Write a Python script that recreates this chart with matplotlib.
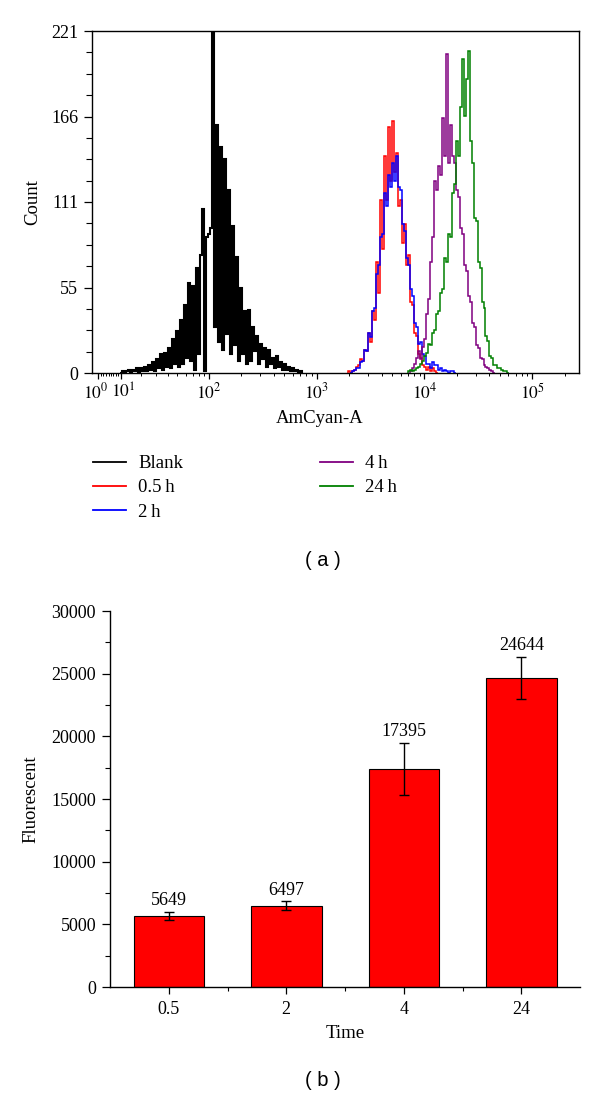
import numpy as np
import matplotlib
matplotlib.use("Agg")
import matplotlib.pyplot as plt
from matplotlib.ticker import FixedLocator, MultipleLocator, NullFormatter
from matplotlib.lines import Line2D
from matplotlib.transforms import ScaledTranslation

plt.rcParams['font.family'] = ['Liberation Serif', 'DejaVu Serif']
plt.rcParams['mathtext.fontset'] = 'stix'

## (a) flow cytometry histograms
# counts per channel; channels are equal steps on the arcsinh (logicle-like) axis
LOGICLE_W = 18.0
CHANNEL_STEP = 0.04264

blank_first = 12
blank_counts = [0, 1, 0, 1, 2, 0, 2, 1, 3, 0, 3, 1, 4, 1, 5, 2, 7, 1, 9, 3,
                12, 2, 13, 4, 16, 3, 22, 6, 27, 4, 34, 6, 44, 10, 58, 8, 56, 2, 68, 12,
                76, 106, 1, 88, 90, 94, 221, 30, 160, 20, 146, 15, 138, 25, 118, 12, 95, 18, 75, 8,
                55, 12, 40, 6, 41, 8, 30, 14, 24, 6, 19, 9, 16, 4, 15, 6, 10, 3, 11, 4,
                7, 2, 6, 2, 4, 1, 3, 1, 2, 0, 1]

h05_first = 126
h05_counts = [1, 0, 1, 2, 4, 5, 9, 8, 15, 14, 26, 20, 40, 34, 72, 52, 112, 80, 140, 112,
              159, 124, 163, 130, 142, 108, 112, 84, 96, 70, 76, 46, 44, 26, 24, 12, 10, 5, 4, 2,
              4, 1, 3, 1, 0]

h2_first = 127
h2_counts = [0, 1, 2, 3, 3, 7, 8, 15, 14, 26, 23, 40, 42, 64, 70, 88, 90, 116, 108, 128,
             120, 136, 124, 140, 120, 118, 96, 92, 74, 70, 54, 50, 32, 30, 19, 20, 12, 11, 6, 6,
             3, 7, 5, 5, 2, 3, 1, 2, 1, 0, 1, 1, 0]

h4_first = 157
h4_counts = [1, 3, 6, 10, 14, 9, 17, 22, 38, 48, 72, 88, 124, 118, 134, 128, 165, 140, 206, 136,
             160, 140, 136, 118, 114, 94, 90, 70, 66, 50, 46, 32, 30, 18, 16, 10, 9, 5, 4, 3,
             2, 1, 0]

h24_first = 156
h24_counts = [1, 2, 1, 2, 3, 4, 6, 8, 11, 13, 19, 18, 26, 28, 38, 40, 52, 54, 74, 72,
              90, 88, 116, 122, 150, 140, 172, 203, 166, 190, 208, 150, 136, 100, 98, 72, 68, 46, 42, 24,
              21, 11, 10, 5, 5, 3, 3, 2, 1, 1, 0]

series_labels = ["Blank", "0.5\u2009h", "2\u2009h", "4\u2009h", "24\u2009h"]
series_colors = ["black", "red", "blue", "purple", "green"]
series_widths = [1.5, 1.1, 1.1, 1.1, 1.1]

count_ticks = [0, 55.25, 110.5, 165.75, 221]
count_tick_labels = ["0", "55", "111", "166", "221"]
decade_ticks = [1, 10, 100, 1000, 10000, 100000]
decade_labels = [r"$10^{0}$", r"$10^{1}$", r"$10^{2}$", r"$10^{3}$", r"$10^{4}$", r"$10^{5}$"]

## (b) mean fluorescence per time point
times = ["0.5", "2", "4", "24"]
fluorescence = [5649, 6497, 17395, 24644]
fluorescence_err = [320, 335, 2075, 1700]


def to_logicle(x):
    return np.arcsinh(np.asarray(x, dtype=float) / LOGICLE_W)


def from_logicle(u):
    return LOGICLE_W * np.sinh(u)


def channel_edges(first, n):
    ch = np.arange(first, first + n + 1)
    return from_logicle(ch * CHANNEL_STEP)


fig = plt.figure(figsize=(6, 10.98), dpi=100)

##Histogram panel
ax = fig.add_axes([92 / 600, 1 - 373 / 1098, 487 / 600, 342 / 1098])
ax.set_xscale('function', functions=(to_logicle, from_logicle))

all_series = [(blank_first, blank_counts), (h05_first, h05_counts), (h2_first, h2_counts),
              (h4_first, h4_counts), (h24_first, h24_counts)]
for (first, counts), color, lw in zip(all_series, series_colors, series_widths):
    ax.stairs(counts, channel_edges(first, len(counts)), color=color, lw=lw, baseline=0)

ax.set_xlim(-1.4, 270000)
ax.set_ylim(0, 221)
ax.xaxis.set_major_locator(FixedLocator(decade_ticks))
ax.set_xticklabels(decade_labels)
minor_x = [m * 10 ** n for n in range(0, 5) for m in range(2, 10)] + [200000]
ax.xaxis.set_minor_locator(FixedLocator(minor_x))
ax.xaxis.set_minor_formatter(NullFormatter())
ax.yaxis.set_major_locator(FixedLocator(count_ticks))
ax.set_yticklabels(count_tick_labels)
ax.yaxis.set_minor_locator(MultipleLocator(221 / 16))
ax.tick_params(axis='y', which='major', direction='out', length=6, width=0.9, labelsize=13, pad=4)
ax.tick_params(axis='y', which='minor', direction='out', length=4, width=0.8)
ax.tick_params(axis='x', which='major', direction='out', length=4, width=0.9, labelsize=12.5, pad=3)
ax.tick_params(axis='x', which='minor', direction='out', length=2.5, width=0.7)
for sp in ax.spines.values():
    sp.set_linewidth(1.0)
ax.set_ylabel("Count", fontsize=13.5)
ax.yaxis.set_label_coords(-0.105, 0.5)
ax.set_xlabel("AmCyan-A", fontsize=13.5)
ax.xaxis.set_label_coords(0.468, -0.108)

# 10^0 and 10^1 sit very close on this axis, nudge them apart a little
xt = ax.xaxis.get_major_ticks()
xt[0].label1.set_transform(xt[0].label1.get_transform()
                           + ScaledTranslation(-2.5 / 100, 0, fig.dpi_scale_trans))
xt[1].label1.set_transform(xt[1].label1.get_transform()
                           + ScaledTranslation(2.5 / 100, 0, fig.dpi_scale_trans))

handles = [Line2D([], [], color=c, lw=1.3) for c in series_colors]
fig.legend(handles, series_labels, ncol=2, loc='upper left',
           bbox_to_anchor=(93 / 600, 1 - 455 / 1098), frameon=False, fontsize=13.5,
           handlelength=1.75, handletextpad=0.65, columnspacing=7.3,
           labelspacing=0.38, borderpad=0, borderaxespad=0)

fig.text(323 / 600, 1 - 561 / 1098, "( a )", family=['Liberation Sans', 'DejaVu Sans'],
         fontsize=14.5, ha='center', va='center')

##Bar panel
ax2 = fig.add_axes([110 / 600, 1 - 987 / 1098, 470 / 600, 376 / 1098])
xpos = np.arange(len(times))
ax2.bar(xpos, fluorescence, width=0.6, color='red', edgecolor='black', linewidth=0.8,
        yerr=fluorescence_err, capsize=3.5,
        error_kw=dict(elinewidth=1.0, capthick=1.0, ecolor='black'))
for i, (v, e) in enumerate(zip(fluorescence, fluorescence_err)):
    ax2.annotate(str(v), (i, v + e), xytext=(0, 2), textcoords='offset points',
                 ha='center', va='bottom', fontsize=13)

ax2.set_xlim(-0.5, 3.5)
ax2.set_ylim(0, 30000)
ax2.set_xticks(xpos)
ax2.set_xticklabels(times)
ax2.xaxis.set_minor_locator(FixedLocator([0.5, 1.5, 2.5]))
ax2.yaxis.set_major_locator(MultipleLocator(5000))
ax2.yaxis.set_minor_locator(MultipleLocator(2500))
ax2.spines['top'].set_visible(False)
ax2.spines['right'].set_visible(False)
ax2.spines['left'].set_linewidth(1.0)
ax2.spines['bottom'].set_linewidth(1.0)
ax2.tick_params(axis='y', which='major', direction='out', length=6, width=0.9, labelsize=13, pad=4)
ax2.tick_params(axis='y', which='minor', direction='out', length=3.3, width=0.8)
ax2.tick_params(axis='x', which='major', direction='out', length=5.3, width=0.9, labelsize=13, pad=5)
ax2.tick_params(axis='x', which='minor', direction='out', length=3, width=0.8)
ax2.set_xlabel("Time", fontsize=13.5)
ax2.xaxis.set_label_coords(0.5, -0.102)
ax2.set_ylabel("Fluorescent", fontsize=13.5)
ax2.yaxis.set_label_coords(-0.15, 0.5)

fig.text(323 / 600, 1 - 1080 / 1098, "( b )", family=['Liberation Sans', 'DejaVu Sans'],
         fontsize=14.5, ha='center', va='center')

fig.savefig("out.png", dpi=100)
